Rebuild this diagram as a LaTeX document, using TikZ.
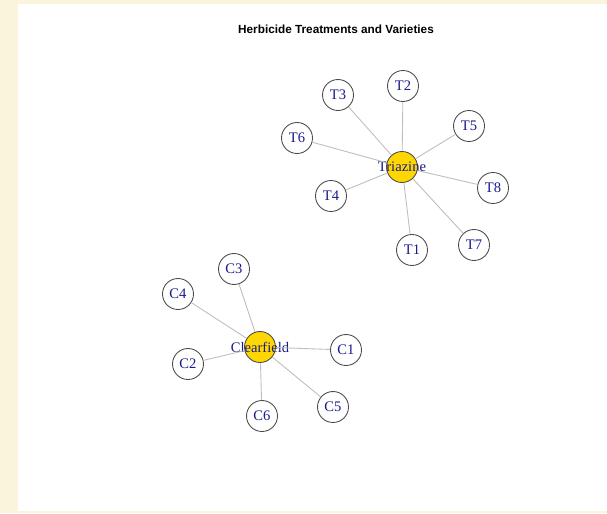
\documentclass[tikz,border=0pt]{standalone}
\usepackage{fontspec}
\setmainfont{Liberation Serif}
\newfontfamily\titlefont{Liberation Sans}
\usepackage{tikz}
\usetikzlibrary{calc}
\definecolor{pagecream}{HTML}{FAF4DC}
\definecolor{hubgold}{HTML}{FFD700}
\definecolor{labelnavy}{HTML}{1A1A8C}
\definecolor{edgegray}{HTML}{BEBEBE}

\begin{document}
\begin{tikzpicture}[
    x=0.02cm, y=-0.02cm,
    leaf/.style={draw=black!70, circle, fill=white, line width=0.5pt, minimum size=0.62cm, inner sep=0pt, text=labelnavy, font=\fontsize{8.3}{9}\selectfont},
    hub/.style={leaf, fill=hubgold},
    link/.style={draw=edgegray, line width=0.5pt}
]
\fill[pagecream] (0,0) rectangle (607,513);
\fill[white] (18,4) rectangle (607,511);
\node[font=\titlefont\bfseries\fontsize{6.7}{8}\selectfont] (title) at (336,29) {Herbicide Treatments and Varieties};
% Triazine group
\node[hub] (tri) at (402,167) {\makebox[0pt]{Triazine}};
\node[leaf] (t1) at (412,250) {T1};
\node[leaf] (t2) at (403,86) {T2};
\node[leaf] (t3) at (338,95) {T3};
\node[leaf] (t4) at (331,196) {T4};
\node[leaf] (t5) at (469,126) {T5};
\node[leaf] (t6) at (297,138) {T6};
\node[leaf] (t7) at (474,245) {T7};
\node[leaf] (t8) at (493,188) {T8};
% Clearfield group
\node[hub] (clf) at (260,347) {\makebox[0pt]{Clearfield}};
\node[leaf] (c1) at (346,350) {C1};
\node[leaf] (c2) at (188,364) {C2};
\node[leaf] (c3) at (234,269) {C3};
\node[leaf] (c4) at (178,294) {C4};
\node[leaf] (c5) at (333,407) {C5};
\node[leaf] (c6) at (262,416) {C6};
\foreach \n in {t1,t2,t3,t4,t5,t6,t7,t8}
    \draw[link] (tri) -- (\n);
\foreach \n in {c1,c2,c3,c4,c5,c6}
    \draw[link] (clf) -- (\n);
\end{tikzpicture}
\end{document}
